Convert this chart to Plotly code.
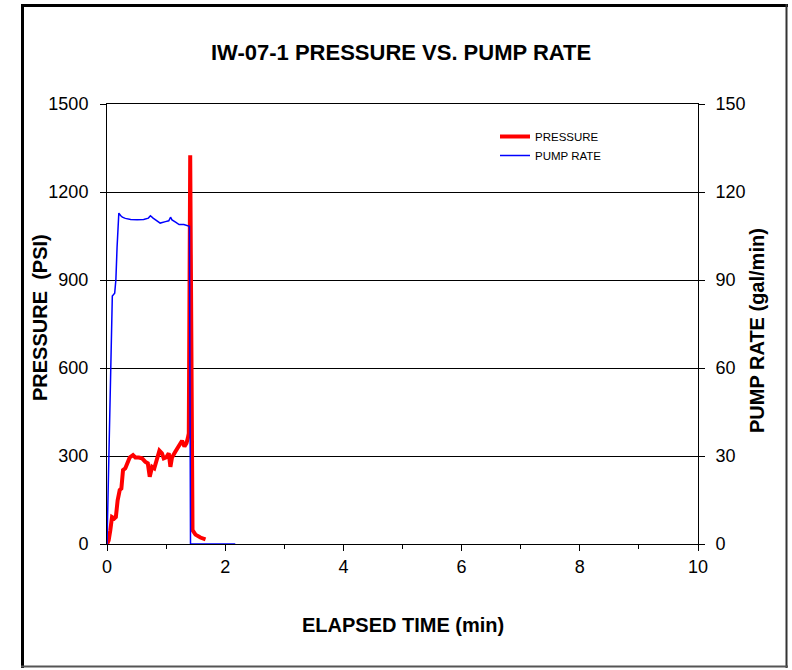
import plotly.graph_objects as go

# ---- data ----
pump_t = [0, 0.02, 0.04, 0.065, 0.09, 0.13, 0.15, 0.17, 0.19, 0.20, 0.23, 0.26, 0.31,
          0.40, 0.51, 0.62, 0.70, 0.735, 0.78, 0.85, 0.90, 0.99, 1.045, 1.075, 1.10,
          1.16, 1.22, 1.30, 1.37, 1.395, 1.413, 1.60, 1.90, 2.17]
pump_rate = [0, 20, 40, 64, 84.5, 85.5, 90, 101, 112.5, 112.8, 112, 111.4, 111,
             110.6, 110.5, 110.6, 111.1, 111.9, 111.1, 110.2, 109.4, 109.9, 110.2, 111.4, 110.5,
             109.7, 108.9, 108.9, 108.5, 108.3, 0, 0, 0, 0]

press_t = [0, 0.028, 0.056, 0.085, 0.124, 0.15, 0.18, 0.215, 0.243, 0.271, 0.31, 0.34,
           0.384, 0.44, 0.48, 0.537, 0.593, 0.65, 0.69, 0.723, 0.763, 0.80, 0.836, 0.887,
           0.93, 0.96, 1.0, 1.045, 1.073, 1.10, 1.158, 1.215, 1.27, 1.31, 1.345, 1.367,
           1.384, 1.408, 1.43, 1.447, 1.497, 1.58, 1.667]
pressure = [0, 12, 47, 92, 87, 92, 149, 184, 189, 252, 258, 275,
            295, 303, 295, 295, 292, 280, 275, 229, 263, 258, 286, 318,
            309, 292, 295, 309, 263, 295, 315, 337, 352, 332, 344, 360,
            377, 1325, 300, 47, 32, 22, 16]

x_ticks = [0, 2, 4, 6, 8, 10]
p_ticks = [0, 300, 600, 900, 1200, 1500]
r_ticks = [0, 30, 60, 90, 120, 150]

FONT = "Liberation Sans, Arial, sans-serif"

W, H = 792, 670
PL, PR, PT, PB = 107, 698, 104, 544          # plot area in window pixels

fig = go.Figure()
fig.add_trace(go.Scatter(x=press_t, y=pressure, mode="lines", name="PRESSURE",
                         line=dict(color="#ff0000", width=4), yaxis="y"))
fig.add_trace(go.Scatter(x=pump_t, y=pump_rate, mode="lines", name="PUMP RATE",
                         line=dict(color="#0000ff", width=1.5), yaxis="y2"))

def px_x(px):
    return (px - PL) / float(PR - PL)

def px_y(py):
    return (PB - py) / float(PB - PT)

fig.update_layout(
    width=W, height=H,
    margin=dict(l=PL, r=W - PR, t=PT, b=H - PB, pad=0),
    paper_bgcolor="white", plot_bgcolor="white",
    font=dict(family=FONT, color="black"),
    showlegend=True,
    legend=dict(x=px_x(495), y=px_y(122), xanchor="left", yanchor="top",
                bgcolor="rgba(0,0,0,0)", font=dict(size=11.5, family=FONT),
                tracegroupgap=0),
    xaxis=dict(range=[0, 10], tickvals=x_ticks, ticktext=[str(v) for v in x_ticks],
               showgrid=False, zeroline=False, showline=True, linecolor="black",
               linewidth=1, mirror=True, ticks="outside", ticklen=6, tickcolor="black",
               tickfont=dict(size=18, family=FONT), ticklabelstandoff=0,
               minor=dict(tickvals=[1, 3, 5, 7, 9], ticks="outside", ticklen=4,
                          tickcolor="black", showgrid=False)),
    yaxis=dict(range=[0, 1500], tickvals=p_ticks, ticktext=[str(v) for v in p_ticks],
               showgrid=True, gridcolor="black", gridwidth=1, zeroline=False,
               showline=True, linecolor="black", linewidth=1, ticks="outside",
               ticklen=6, tickcolor="black", tickfont=dict(size=18, family=FONT),
               ticklabelstandoff=8),
    yaxis2=dict(range=[0, 150], tickvals=r_ticks, ticktext=[str(v) for v in r_ticks],
                overlaying="y", side="right", showgrid=False, zeroline=False,
                showline=True, linecolor="black", linewidth=1, ticks="outside",
                ticklen=6, tickcolor="black", tickfont=dict(size=18, family=FONT),
                ticklabelstandoff=7),
    annotations=[
        dict(text="<b>IW-07-1 PRESSURE VS. PUMP RATE</b>", xref="paper", yref="paper",
             x=px_x(401), y=px_y(52), xanchor="center", yanchor="middle",
             showarrow=False, font=dict(size=22, family=FONT)),
        dict(text="<b>ELAPSED TIME (min)</b>", xref="paper", yref="paper",
             x=px_x(403), y=px_y(625), xanchor="center", yanchor="middle",
             showarrow=False, font=dict(size=20, family=FONT)),
        dict(text="<b>PRESSURE  (PSI)</b>", xref="paper", yref="paper",
             x=px_x(40), y=px_y(318), xanchor="center", yanchor="middle",
             textangle=-90, showarrow=False, font=dict(size=20, family=FONT)),
        dict(text="<b>PUMP RATE (gal/min)</b>", xref="paper", yref="paper",
             x=px_x(757), y=px_y(330), xanchor="center", yanchor="middle",
             textangle=-90, showarrow=False, font=dict(size=20, family=FONT)),
    ],
    shapes=[
        dict(type="line", xref="paper", yref="paper", x0=px_x(21), x1=px_x(788),
             y0=px_y(5.5), y1=px_y(5.5), line=dict(color="black", width=3)),
        dict(type="line", xref="paper", yref="paper", x0=px_x(22.5), x1=px_x(22.5),
             y0=px_y(4), y1=px_y(668), line=dict(color="black", width=3)),
        dict(type="line", xref="paper", yref="paper", x0=px_x(786.5), x1=px_x(786.5),
             y0=px_y(4), y1=px_y(668), line=dict(color="#333333", width=2)),
        dict(type="line", xref="paper", yref="paper", x0=px_x(21), x1=px_x(788),
             y0=px_y(666.5), y1=px_y(666.5), line=dict(color="#555555", width=2)),
    ],
)

fig.write_html(
    "out.html",
    config={"displayModeBar": False},
    post_script="document.body.style.margin='0';"
                "document.body.style.overflow='hidden';"
                "document.documentElement.style.overflow='hidden';",
)
